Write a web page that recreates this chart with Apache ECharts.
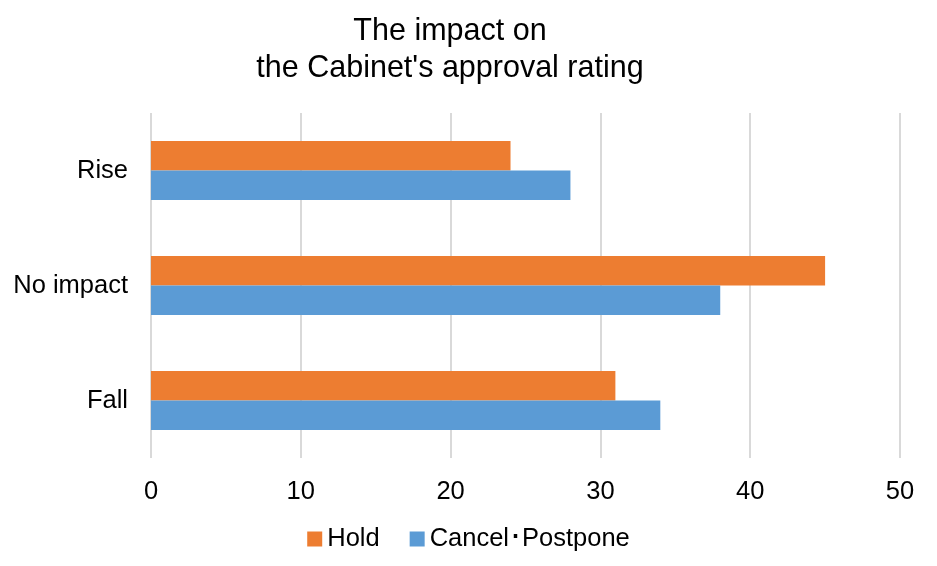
<!DOCTYPE html>
<html>
<head>
<meta charset="utf-8">
<script src="https://cdn.jsdelivr.net/npm/echarts@6/dist/echarts.min.js"></script>
<style>html,body{margin:0;padding:0;background:#fff;}#c{width:937px;height:566px;}</style>
</head>
<body>
<div id="c"></div>
<script>
const categories = ['Fall', 'No impact', 'Rise'];
const holdValues = [31, 45, 24];
const cancelValues = [34, 38, 28];
const seriesNames = ['Hold', 'Cancel･Postpone'];
const xTicks = [0, 10, 20, 30, 40, 50];

const chart = echarts.init(document.getElementById('c'));
const font = 'Liberation Sans, Arial, sans-serif';
chart.setOption({
  animation: false,
  title: {
    text: 'The impact on\nthe Cabinet\'s approval rating',
    left: 445,
    textAlign: 'center',
    top: 8,
    textStyle: {fontFamily: font, fontSize: 30.5, fontWeight: 'normal', color: '#000', lineHeight: 37}
  },
  legend: {
    bottom: 9,
    left: 'center',
    itemWidth: 15,
    itemHeight: 15,
    itemGap: 30,
    icon: 'rect',
    textStyle: {fontFamily: font, fontSize: 25.5, color: '#000'},
    data: seriesNames
  },
  grid: {left: 151, right: 37, top: 113, bottom: 108, containLabel: false},
  xAxis: {
    type: 'value',
    min: xTicks[0],
    max: xTicks[xTicks.length - 1],
    interval: 10,
    axisLine: {show: false},
    axisTick: {show: false},
    axisLabel: {fontFamily: font, fontSize: 25.5, color: '#000', margin: 21},
    splitLine: {lineStyle: {color: '#d9d9d9', width: 2}}
  },
  yAxis: {
    type: 'category',
    data: categories,
    axisLine: {show: false},
    axisTick: {show: false},
    axisLabel: {fontFamily: font, fontSize: 25.5, color: '#000', margin: 23}
  },
  series: [
    {name: seriesNames[0], type: 'bar', data: holdValues, itemStyle: {color: '#ed7d31'}, barWidth: 29.5, barGap: '0%'},
    {name: seriesNames[1], type: 'bar', data: cancelValues, itemStyle: {color: '#5b9bd5'}, barWidth: 29.5, barGap: '0%'}
  ]
});
</script>
</body>
</html>
